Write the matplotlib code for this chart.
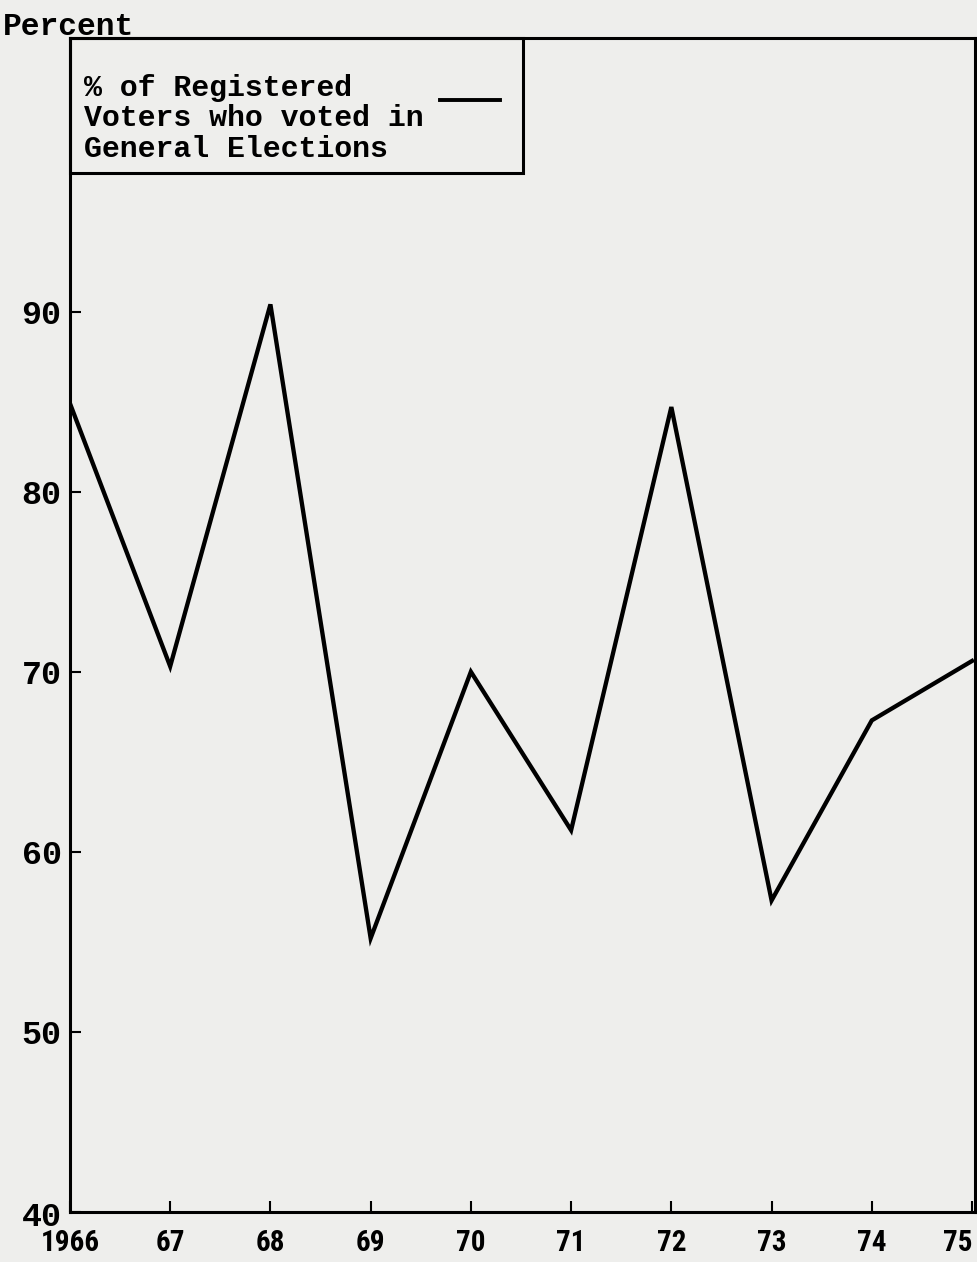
import matplotlib
matplotlib.use("Agg")
import matplotlib.pyplot as plt
from matplotlib.patches import Rectangle
from matplotlib.lines import Line2D

# % of registered voters who voted in general elections
years = [1966, 1967, 1968, 1969, 1970, 1971, 1972, 1973, 1974, 1975]
turnout = [84.9, 70.3, 90.4, 55.2, 70.0, 61.2, 84.7, 57.3, 67.3, 70.6]
xtick_labels = ["1966", "67", "68", "69", "70", "71", "72", "73", "74", "75"]
yticks = [40, 50, 60, 70, 80, 90]
legend_lines = ["% of Registered", "Voters who voted in", "General Elections"]

paper = "#eeeeec"
mono = "Liberation Mono"
narrow = ["Liberation Sans Narrow", "DejaVu Sans Condensed", "Roboto Condensed", "DejaVu Sans"]

fig = plt.figure(figsize=(9.77, 12.62), dpi=100, facecolor=paper)
ax = fig.add_axes([0.0716, 0.0396, 0.9264, 0.9304], facecolor=paper)

ax.plot(years, turnout, color="black", linewidth=3.1, solid_joinstyle="miter")

ax.set_xlim(1966, 1975.03)
ax.set_ylim(40, 105.2)

ax.set_xticks(years)
ax.set_xticklabels(xtick_labels, fontfamily=narrow, fontweight="bold", fontsize=21)
ax.get_xticklabels()[-1].set_horizontalalignment("right")
ax.set_yticks(yticks)
ax.set_yticklabels(["" if v == 40 else str(v) for v in yticks], fontfamily=mono,
                   fontweight="bold", fontsize=24)
ax.tick_params(axis="x", direction="in", length=8, width=1.5, pad=12)
ax.tick_params(axis="y", direction="in", length=8, width=1.5, pad=6)
# the typed "40" sits a little below its tick
ax.annotate(str(yticks[0]), xy=(0, yticks[0]), xycoords=("axes fraction", "data"),
            xytext=(-8, -5), textcoords="offset pixels", ha="right", va="center",
            fontfamily=mono, fontweight="bold", fontsize=24)
for s in ax.spines.values():
    s.set_linewidth(2.2)

# legend box drawn like the typed original
box_top = 1.0
box_bot = 0.885
ax.add_patch(Rectangle((0, box_bot), 0.5006, box_top - box_bot,
                       transform=ax.transAxes, fill=False,
                       edgecolor="black", linewidth=2.2, zorder=5,
                       clip_on=False))
ys = [0.957, 0.932, 0.905]
for txt, y in zip(legend_lines, ys):
    ax.text(0.0155, y, txt, transform=ax.transAxes, fontfamily=mono,
            fontweight="bold", fontsize=21.5, va="center", ha="left", zorder=6)
ax.add_line(Line2D([0.409, 0.475], [0.947, 0.947], transform=ax.transAxes,
                   color="black", linewidth=2.8, zorder=6))

fig.text(0.003, 0.979, "Percent", fontfamily=mono, fontweight="bold",
         fontsize=22.5, ha="left", va="center")

fig.savefig("out.png", dpi=100, facecolor=paper)
